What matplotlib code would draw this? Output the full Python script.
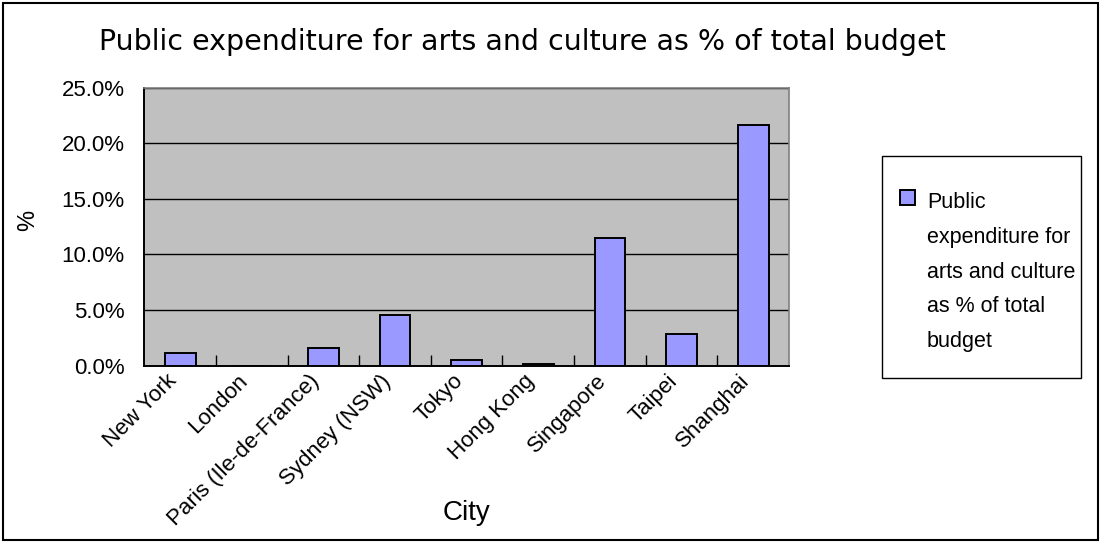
import matplotlib
matplotlib.use("Agg")
import matplotlib.pyplot as plt
from matplotlib.patches import Rectangle
from matplotlib.ticker import FuncFormatter, MultipleLocator
from matplotlib.transforms import ScaledTranslation

plt.rcParams['font.family'] = ['Liberation Sans', 'DejaVu Sans']

cities = ["New York", "London", "Paris (Ile-de-France)", "Sydney (NSW)", "Tokyo",
          "Hong Kong", "Singapore", "Taipei", "Shanghai"]
share_pct = [1.1, 0.0, 1.6, 4.5, 0.5, 0.1, 11.5, 2.8, 21.6]
series_name = "Public\nexpenditure for\narts and culture\nas % of total\nbudget"

W, H = 1101, 543
fig = plt.figure(figsize=(W / 100, H / 100), dpi=100)
fig.patch.set_facecolor("white")

# outer chart border
fig.add_artist(Rectangle((3 / W, 3 / H), 1 - 6 / W, 1 - 6 / H, transform=fig.transFigure,
                         fill=False, edgecolor="black", linewidth=1.5))

ax = fig.add_axes([144.3 / W, (H - 365.5) / H, (789 - 144.3) / W, (365.5 - 87.5) / H])
ax.set_facecolor("#C0C0C0")

x = list(range(len(cities)))
ax.bar(x, share_pct, width=0.43, color="#9999FF", edgecolor="black", linewidth=1.4, zorder=3)

ax.set_xlim(-0.5, len(cities) - 0.5)
ax.set_ylim(0, 25)
ax.yaxis.set_major_locator(MultipleLocator(5))
ax.yaxis.set_major_formatter(FuncFormatter(lambda v, p: f"{v:.1f}%"))
ax.grid(axis="y", color="black", linewidth=1.0, zorder=1)
ax.set_axisbelow(True)

ax.set_xticks(x)
ax.set_xticklabels(cities, rotation=45, ha="right", va="center", rotation_mode="anchor",
                   fontsize=16)
ax.tick_params(axis="x", length=0, pad=9)
shift = ScaledTranslation(-7 / 100, 0, fig.dpi_scale_trans)
for lbl in ax.get_xticklabels():
    lbl.set_transform(lbl.get_transform() + shift)
ax.set_xticks([i + 0.5 for i in x[:-1]], minor=True)
ax.tick_params(axis="x", which="minor", direction="in", length=8, width=1, color="black")
ax.tick_params(axis="y", length=0, pad=14, labelsize=16)

for side in ("left", "bottom"):
    ax.spines[side].set_color("black")
    ax.spines[side].set_linewidth(1.4)
for side in ("top", "right"):
    ax.spines[side].set_color("#808080")
    ax.spines[side].set_linewidth(1.2)

fig.text(522 / W, 1 - 42 / H, "Public expenditure for arts and culture as % of total budget",
         ha="center", va="center", fontsize=20.5, family="DejaVu Sans")
fig.text(467 / W, 1 - 513 / H, "City", ha="center", va="center", fontsize=20)
fig.text(28 / W, 1 - 220 / H, "%", ha="center", va="center", fontsize=17, rotation=90)

# legend box
fig.add_artist(Rectangle((882 / W, 1 - 378 / H), 199 / W, 222 / H, transform=fig.transFigure,
                         facecolor="white", edgecolor="black", linewidth=1.0))
fig.add_artist(Rectangle((900 / W, 1 - 205 / H), 15 / W, 15 / H, transform=fig.transFigure,
                         facecolor="#9999FF", edgecolor="black", linewidth=1.4))
fig.text(927 / W, 1 - 192 / H, series_name, ha="left", va="top", fontsize=15.5,
         linespacing=1.86)

fig.savefig("out.png", dpi=100)
